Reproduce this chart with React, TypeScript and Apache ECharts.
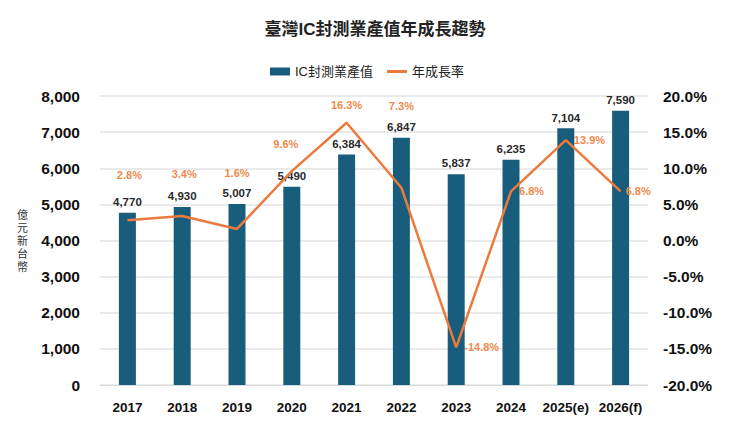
import React, { useEffect, useRef } from "react";
import * as echarts from "echarts";

// chart data
const years = ["2017", "2018", "2019", "2020", "2021", "2022", "2023", "2024", "2025(e)", "2026(f)"];
const outputValues = [4770, 4930, 5007, 5490, 6384, 6847, 5837, 6235, 7104, 7590];
const growthRates = [2.8, 3.4, 1.6, 9.6, 16.3, 7.3, -14.8, 6.8, 13.9, 6.8];

// where each growth label sits
const rateLabelPos = ["top", "top", "top", "top", "top", "top", "right", "right", "right", "right"];
const rateLabelDist = [40, 36, 50, 22, 12, 76, 8, 8, 8, 5];
const rateLabelShiftX = [2, 2, 0, -6, 0, 0, 0, 0, 0, 0];

const FONT = "'Liberation Sans', Arial, 'Noto Sans CJK TC', sans-serif";
const BAR_COLOR = "#195d7d";
const LINE_COLOR = "#ec7a3c";

const App: React.FC = () => {
  const chartRef = useRef<HTMLDivElement>(null);

  useEffect(() => {
    const chart = echarts.init(chartRef.current!, null, { renderer: "svg" });

    chart.setOption({
      animation: false,
      textStyle: { fontFamily: FONT },
      title: {
        text: "臺灣IC封測業產值年成長趨勢",
        left: "center",
        top: 8,
        textStyle: { fontSize: 17, fontWeight: "bold", color: "#222", fontFamily: FONT },
      },
      legend: {
        top: 52,
        left: 257,
        itemGap: 14,
        itemWidth: 20,
        itemHeight: 8,
        textStyle: { fontSize: 13, color: "#222", fontFamily: FONT },
        data: [
          { name: "IC封測業產值", icon: "rect" },
          { name: "年成長率", icon: "path://M0,0 L20,0 L20,3 L0,3 Z" },
        ],
      },
      grid: { left: 92, right: 94, top: 88, bottom: 37 },
      xAxis: {
        type: "category",
        data: years,
        axisLine: { show: true, lineStyle: { color: "#d9d9d9" } },
        axisTick: { show: false },
        axisLabel: { interval: 0, fontSize: 13.5, fontWeight: "bold", color: "#111", margin: 16 },
      },
      yAxis: [
        {
          type: "value",
          min: 0,
          max: 8000,
          interval: 1000,
          name: "億\n元\n新\n台\n幣",
          nameLocation: "middle",
          nameRotate: 0,
          nameGap: 72,
          nameTextStyle: { fontSize: 11, color: "#333", lineHeight: 13 },
          axisLabel: {
            fontSize: 15.5,
            fontWeight: "bold",
            color: "#111",
            margin: 20,
            formatter: (v: number) => v.toLocaleString("en-US"),
          },
          splitLine: { lineStyle: { color: "#e3e3e3", width: 1.5 } },
          axisLine: { show: false },
          axisTick: { show: false },
        },
        {
          type: "value",
          min: -20,
          max: 20,
          interval: 5,
          position: "right",
          axisLabel: {
            fontSize: 15.5,
            fontWeight: "bold",
            color: "#111",
            margin: 15,
            formatter: (v: number) => v.toFixed(1) + "%",
          },
          splitLine: { show: false },
          axisLine: { show: false },
          axisTick: { show: false },
        },
      ],
      series: [
        {
          name: "IC封測業產值",
          type: "bar",
          data: outputValues,
          barWidth: "31%",
          itemStyle: { color: BAR_COLOR },
          label: {
            show: true,
            position: "top",
            distance: 5,
            fontSize: 11.5,
            fontWeight: "bold",
            color: "#2a2a2a",
            formatter: (p: any) => Number(p.value).toLocaleString("en-US"),
          },
        },
        {
          name: "年成長率",
          type: "line",
          yAxisIndex: 1,
          showSymbol: true,
          symbol: "circle",
          symbolSize: 0.1,
          lineStyle: { color: LINE_COLOR, width: 2.5 },
          itemStyle: { color: LINE_COLOR },
          data: growthRates.map((v, i) => ({
            value: v,
            label: {
              show: true,
              position: rateLabelPos[i],
              distance: rateLabelDist[i],
              offset: [rateLabelShiftX[i], 0],
              fontSize: 11,
              fontWeight: "bold",
              color: "#ef8a4c",
              formatter: (p: any) => Number(p.value).toFixed(1) + "%",
            },
          })),
        },
      ],
    });

    return () => {
      chart.dispose();
    };
  }, []);

  return <div ref={chartRef} style={{ width: 734, height: 414 }} />;
};

export default App;
